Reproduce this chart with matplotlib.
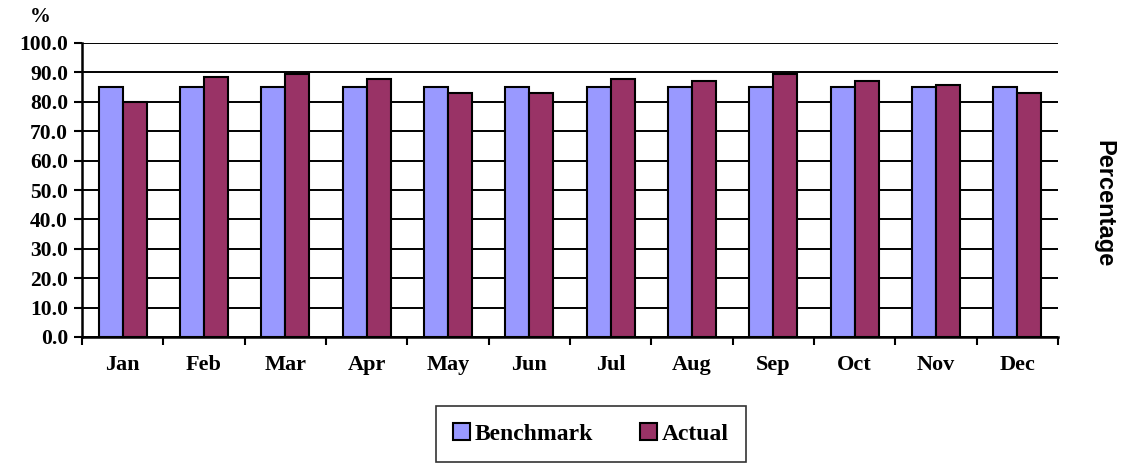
import matplotlib
matplotlib.use("Agg")
import matplotlib.pyplot as plt
import numpy as np
from matplotlib.patches import Patch

months = ["Jan", "Feb", "Mar", "Apr", "May", "Jun", "Jul", "Aug", "Sep", "Oct", "Nov", "Dec"]
benchmark = [85.0, 85.0, 85.0, 85.0, 85.0, 85.0, 85.0, 85.0, 85.0, 85.0, 85.0, 85.0]
actual = [80.0, 88.6, 89.3, 87.9, 82.9, 82.9, 87.9, 87.2, 89.3, 87.0, 85.8, 82.9]
yticks = [0, 10, 20, 30, 40, 50, 60, 70, 80, 90, 100]

c_bench = "#9999FF"
c_act = "#993366"
serif = ["Liberation Serif", "DejaVu Serif"]

W, H = 1133, 463
fig = plt.figure(figsize=(W / 100, H / 100), dpi=100)
ax = fig.add_axes([82 / W, 1 - 337 / H, (1058 - 82) / W, (337 - 43) / H])

x = np.arange(len(months))
bw = 0.295
ax.bar(x - bw / 2, benchmark, bw, color=c_bench, edgecolor="black", linewidth=1.5, zorder=3)
ax.bar(x + bw / 2, actual, bw, color=c_act, edgecolor="black", linewidth=1.5, zorder=3)

ax.set_xlim(-0.5, len(months) - 0.5)
ax.set_ylim(0, 100)
ax.set_yticks(yticks)
ax.set_yticklabels([f"{v:.1f}" for v in yticks], family=serif, fontweight="bold", fontsize=15.5)
ax.yaxis.grid(True, color="black", linewidth=1.4, zorder=0)
ax.set_axisbelow(True)

ax.set_xticks(x)
ax.set_xticklabels(months, family=serif, fontweight="bold", fontsize=16)
ax.tick_params(axis="x", length=0, pad=13)
ax.set_xticks(np.arange(-0.5, len(months), 1.0), minor=True)
ax.tick_params(axis="x", which="minor", length=6, width=1.5, direction="out")
ax.tick_params(axis="y", length=6, width=1.5, direction="out", pad=4)

for s in ["top", "right"]:
    ax.spines[s].set_visible(False)
ax.spines["left"].set_linewidth(1.8)
ax.spines["bottom"].set_linewidth(1.8)

fig.text(40 / W, 1 - 17 / H, "%", family=serif, fontweight="bold", fontsize=15,
         ha="center", va="center")
fig.text(1104 / W, 1 - 204 / H, "Percentage", family=["Liberation Sans", "DejaVu Sans"],
         fontweight="bold", fontsize=17, rotation=270, ha="center", va="center")

handles = [Patch(facecolor=c_bench, edgecolor="black", linewidth=1.5, label="Benchmark"),
           Patch(facecolor=c_act, edgecolor="black", linewidth=1.5, label="Actual")]
leg = fig.legend(handles=handles, loc="center", bbox_to_anchor=(591 / W, 1 - 434 / H),
                 ncol=2, frameon=True, fancybox=False, handlelength=0.7, handleheight=0.7,
                 handletextpad=0.2, columnspacing=2.0, borderpad=0.75,
                 prop={"family": serif, "weight": "bold", "size": 17})
leg.get_frame().set_edgecolor("black")
leg.get_frame().set_linewidth(1.2)

fig.savefig("out.png", dpi=100)
